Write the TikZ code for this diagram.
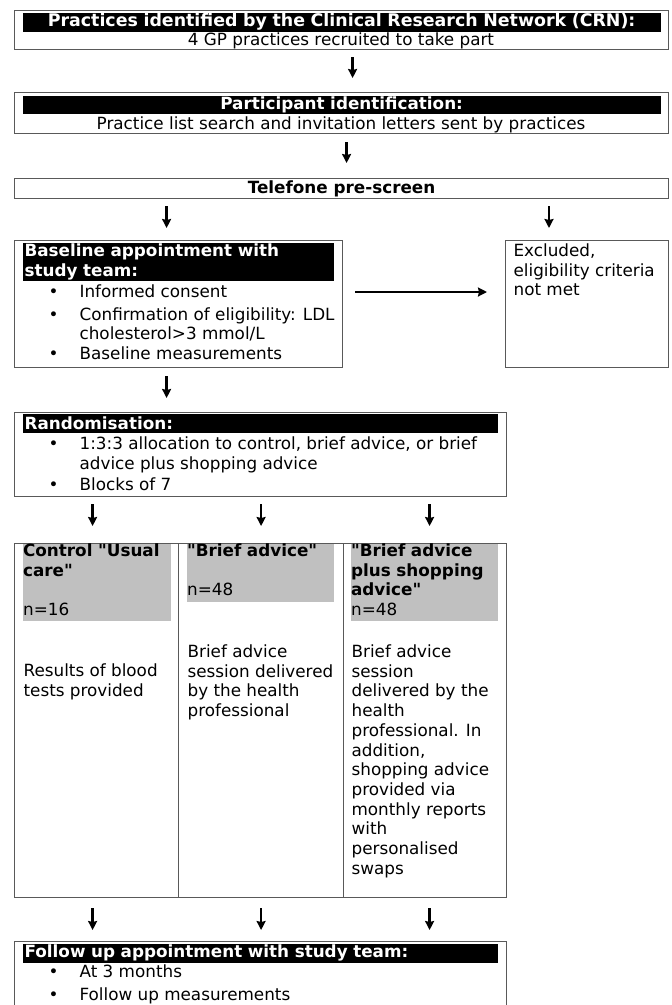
\documentclass[tikz,border=0pt]{standalone}
\usepackage{fontspec}
\setmainfont{DejaVu Sans}[Ligatures=TeXOff]
\usetikzlibrary{arrows.meta,positioning}
\newcommand{\flowfont}{\fontsize{16.8}{19.7}\selectfont}
\newcommand{\bulitem}{\makebox[31pt][l]{•}}
\newcommand{\bulcont}{\hspace*{31pt}}
\newcommand{\graydepth}{\rule[-6pt]{0pt}{6pt}}
\definecolor{headgray}{RGB}{192,192,192}
\tikzset{
    >={Stealth[length=9pt,width=9pt,inset=1pt]},
    every picture/.style={line width=1.2pt},
    box/.style={draw=black!65,rectangle,inner sep=0pt,anchor=north west,font=\flowfont\bfseries},
    bar/.style={fill=black,text=white,font=\flowfont\bfseries,inner xsep=2pt,inner ysep=1pt,anchor=north west,align=left,minimum height=19pt},
    head/.style={fill=headgray,font=\flowfont\bfseries,inner xsep=0.5pt,inner ysep=0pt,anchor=north west,align=left},
    txt/.style={font=\flowfont,inner sep=0pt,anchor=north west,align=left},
    arr/.style={->,line width=2.6pt}
}
\begin{document}
\begin{tikzpicture}[x=1pt,y=-1pt]
    \useasboundingbox (0,0) rectangle (672,1005);
    \clip (0,0) rectangle (672,1005);

    % Recruitment of practices
    \node[box,minimum width=654pt,minimum height=39pt] (crn) at (14,10) {};
    \node[bar,text width=634pt,align=center,minimum height=17.5pt] (crnbar) at (22,12)
        {\fontsize{17.4}{19.7}\selectfont Practices identified by the Clinical Research Network (CRN):};
    \node[txt,anchor=base] (crntxt) at (341,45) {4 GP practices recruited to take part};

    % Participant identification
    \node[box,minimum width=654pt,minimum height=41pt] (ident) at (14,92) {};
    \node[bar,text width=634pt,align=center,minimum height=18pt] (identbar) at (22,95) {Participant identification:};
    \node[txt,anchor=base] (identtxt) at (341,129)
        {Practice list search and invitation letters sent by practices};

    % Pre-screen
    \node[box,minimum width=654pt,minimum height=20pt] (screen) at (14,178) {Telefone pre-screen};

    % Baseline and excluded
    \node[box,minimum width=328pt,minimum height=127pt] (base) at (14,240) {};
    \node[bar,text width=307pt] (basebar) at (22,242) {Baseline appointment with\\study team:};
    \node[txt] (basetxt) at (48,284.2) {\bulitem Informed consent\\[3pt]
        \bulitem Confirmation of eligibility: LDL\\
        \bulcont cholesterol>3 mmol/L\\
        \bulitem Baseline measurements};
    \node[box,minimum width=163pt,minimum height=127pt] (excl) at (505,240) {};
    \node[txt] (excltxt) at (513,243.2) {Excluded,\\eligibility criteria\\not met};

    % Randomisation
    \node[box,minimum width=492pt,minimum height=84pt] (rand) at (14,412) {};
    \node[bar,text width=471pt] (randbar) at (22,413) {Randomisation:};
    \node[txt] (randtxt) at (48,436.2) {\bulitem 1:3:3 allocation to control, brief advice, or brief\\
        \bulcont advice plus shopping advice\\[1.3pt]
        \bulitem Blocks of 7};

    % Three arms
    \node[box,minimum width=164pt,minimum height=354pt] (ctrl) at (14,543) {};
    \node[box,minimum width=165pt,minimum height=354pt] (brief) at (178,543) {};
    \node[box,minimum width=163pt,minimum height=354pt] (shop) at (343,543) {};
    \node[head,text width=147pt] (ctrlhead) at (22,543)
        {Control "Usual\\care"\\ \mbox{}\\ \mdseries n=16\graydepth};
    \node[head,text width=146pt] (briefhead) at (186,543)
        {"Brief advice"\\ \mbox{}\\ \mdseries n=48\graydepth};
    \node[head,text width=146pt] (shophead) at (350,543)
        {"Brief advice\\plus shopping\\advice"\\ \mdseries n=48\graydepth};
    \node[txt] (ctrltxt) at (23,663.2) {Results of blood\\tests provided};
    \node[txt] (brieftxt) at (187,644.2) {Brief advice\\session delivered\\by the health\\professional};
    \node[txt] (shoptxt) at (351,644.2) {Brief advice\\session\\delivered by the\\health\\professional. In\\addition,\\shopping advice\\provided via\\monthly reports\\with\\personalised\\swaps};

    % Follow up
    \node[box,minimum width=492pt,minimum height=80pt] (follow) at (14,941) {};
    \node[bar,text width=471pt] (followbar) at (22,943) {Follow up appointment with study team:};
    \node[txt] (followtxt) at (48,964.2) {\bulitem At 3 months\\[3pt]
        \bulitem Follow up measurements};

    % Arrows
    \draw[arr] ([xshift=11pt,yshift=-7pt]crn.south) -- ([xshift=11pt,yshift=14pt]ident.north);
    \draw[arr] ([xshift=5pt,yshift=-8pt]ident.south) -- ([xshift=5pt,yshift=15pt]screen.north);
    \draw[arr] ([xshift=-12pt,yshift=-7pt]base.north |- screen.south) -- ([xshift=-12pt,yshift=12pt]base.north);
    \draw[arr] ([xshift=44pt,yshift=-7pt]excl.north west |- screen.south) -- ([xshift=44pt,yshift=12pt]excl.north west);
    \draw[arr] ([xshift=12pt,yshift=-52pt]base.north east) -- ([xshift=-18pt,yshift=-52pt]excl.north west);
    \draw[arr] ([xshift=-12pt,yshift=-8pt]base.south) -- ([xshift=-12pt,yshift=14pt]base.south |- rand.north);
    \foreach \arm/\dx in {ctrl/-4,brief/0,shop/4.5} {
        \draw[arr] ([xshift=\dx pt,yshift=-7pt]rand.south -| \arm.north) -- ([xshift=\dx pt,yshift=17pt]\arm.north);
        \draw[arr] ([xshift=\dx pt,yshift=-10pt]\arm.south) -- ([xshift=\dx pt,yshift=11pt]\arm.south |- follow.north);
    }
\end{tikzpicture}
\end{document}
